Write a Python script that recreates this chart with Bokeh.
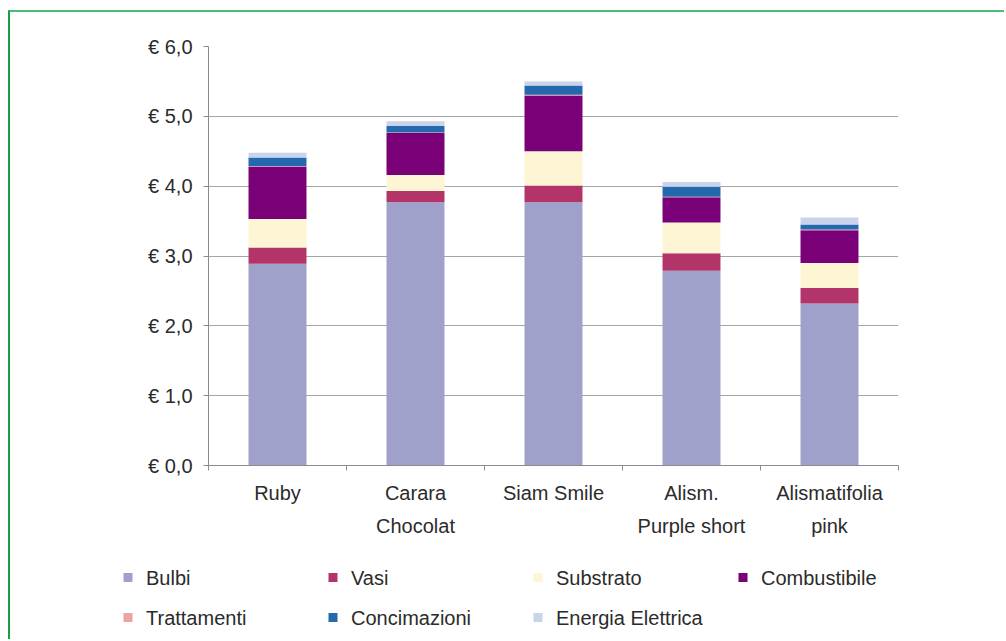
from bokeh.plotting import figure
from bokeh.models import Range1d, FixedTicker
from bokeh.core.properties import value
from bokeh.embed import file_html
from bokeh.resources import INLINE

# Production cost per pot (euro), stacked by cost item
varieties = ["Ruby", "Carara\nChocolat", "Siam Smile", "Alism.\nPurple short", "Alismatifolia\npink"]
bulbi = [2.89, 3.77, 3.77, 2.79, 2.32]
vasi = [0.23, 0.16, 0.24, 0.25, 0.22]
substrato = [0.41, 0.23, 0.49, 0.44, 0.36]
combustibile = [0.75, 0.60, 0.80, 0.36, 0.47]
trattamenti = [0.01, 0.01, 0.01, 0.01, 0.01]
concimazioni = [0.12, 0.09, 0.13, 0.14, 0.07]
energia_elettrica = [0.07, 0.07, 0.06, 0.07, 0.10]

cost_items = ["Bulbi", "Vasi", "Substrato", "Combustibile",
              "Trattamenti", "Concimazioni", "Energia Elettrica"]
series = [bulbi, vasi, substrato, combustibile, trattamenti, concimazioni, energia_elettrica]
colors = ["#a0a1cb", "#b23468", "#fdf5d3", "#7a0077", "#f0a3a3", "#2468ad", "#c9d3ea"]

y_ticks = [0, 1, 2, 3, 4, 5, 6]
y_tick_labels = ["€ 0,0", "€ 1,0", "€ 2,0", "€ 3,0", "€ 4,0", "€ 5,0", "€ 6,0"]

FONT = "Liberation Sans"
TEXT = "#2b2b2b"
AXIS = "#8c8c8c"
W = 996

centers = [i + 0.5 for i in range(len(varieties))]
boundaries = [float(i) for i in range(len(varieties) + 1)]

keys = [name.replace(" ", "_").lower() for name in cost_items]
data = {"x": centers}
data.update({k: vals for k, vals in zip(keys, series)})

# ---- chart -------------------------------------------------------------
p = figure(width=W, height=548, output_backend="svg", toolbar_location=None,
           x_range=Range1d(0, len(varieties)), y_range=Range1d(0, 6),
           min_border_left=198, min_border_right=108,
           min_border_top=34, min_border_bottom=95)
p.styles = {"margin-left": "8px", "margin-top": "10px",
            "border-top": "2px solid #4dbb78", "border-left": "2px solid #18a040"}
p.outline_line_color = None
p.background_fill_color = "white"
p.border_fill_color = "white"

p.vbar_stack(keys, x="x", width=0.42, source=data, color=colors, line_color=None)

# y axis: euro ticks with comma decimals
p.yaxis.ticker = FixedTicker(ticks=y_ticks)
p.yaxis.major_label_overrides = dict(zip(y_ticks, y_tick_labels))
p.yaxis.axis_line_color = AXIS
p.yaxis.major_tick_line_color = AXIS
p.yaxis.major_tick_out = 5
p.yaxis.major_tick_in = 0
p.yaxis.minor_tick_line_color = None
p.yaxis.major_label_standoff = 11
p.yaxis.major_label_text_font = FONT
p.yaxis.major_label_text_font_size = "20px"
p.yaxis.major_label_text_color = TEXT

# x axis: names under the bars, tick marks between categories
p.xaxis.ticker = FixedTicker(ticks=centers, minor_ticks=boundaries)
p.xaxis.major_label_overrides = dict(zip(centers, varieties))
p.xaxis.axis_line_color = AXIS
p.xaxis.major_tick_line_color = None
p.xaxis.minor_tick_line_color = AXIS
p.xaxis.minor_tick_out = 5
p.xaxis.minor_tick_in = 0
p.xaxis.major_label_standoff = 10
p.xaxis.major_label_text_font = FONT
p.xaxis.major_label_text_font_size = "20px"
p.xaxis.major_label_text_color = TEXT
p.xaxis.major_label_text_line_height = 1.5

p.xgrid.grid_line_color = None
p.ygrid.ticker = FixedTicker(ticks=y_ticks)
p.ygrid.grid_line_color = "#a6a6a6"

# ---- legend strip (ranges in pixel units) ------------------------------
LH = 81
lg = figure(width=W, height=LH, output_backend="svg", toolbar_location=None,
            x_range=Range1d(0, W), y_range=Range1d(0, LH),
            x_axis_type=None, y_axis_type=None,
            min_border_left=0, min_border_right=0,
            min_border_top=0, min_border_bottom=0)
lg.styles = {"margin-left": "8px", "border-left": "2px solid #18a040"}
lg.grid.visible = False
lg.outline_line_color = None
lg.background_fill_color = "white"
lg.border_fill_color = "white"

per_row = 4
col_x0, col_step = 117.5, 205
row_y0, row_step = 62, 40
sx = [col_x0 + (i % per_row) * col_step for i in range(len(cost_items))]
sy = [row_y0 - (i // per_row) * row_step for i in range(len(cost_items))]
lg.rect(x=sx, y=sy, width=9, height=9, fill_color=colors, line_color=None)
lg.text(x=[v + 18 for v in sx], y=sy, text=cost_items,
        text_font=value(FONT), text_font_size="20px", text_color=TEXT,
        text_baseline="middle", text_align="left")

open("out.html", "w").write(file_html([p, lg], INLINE))
